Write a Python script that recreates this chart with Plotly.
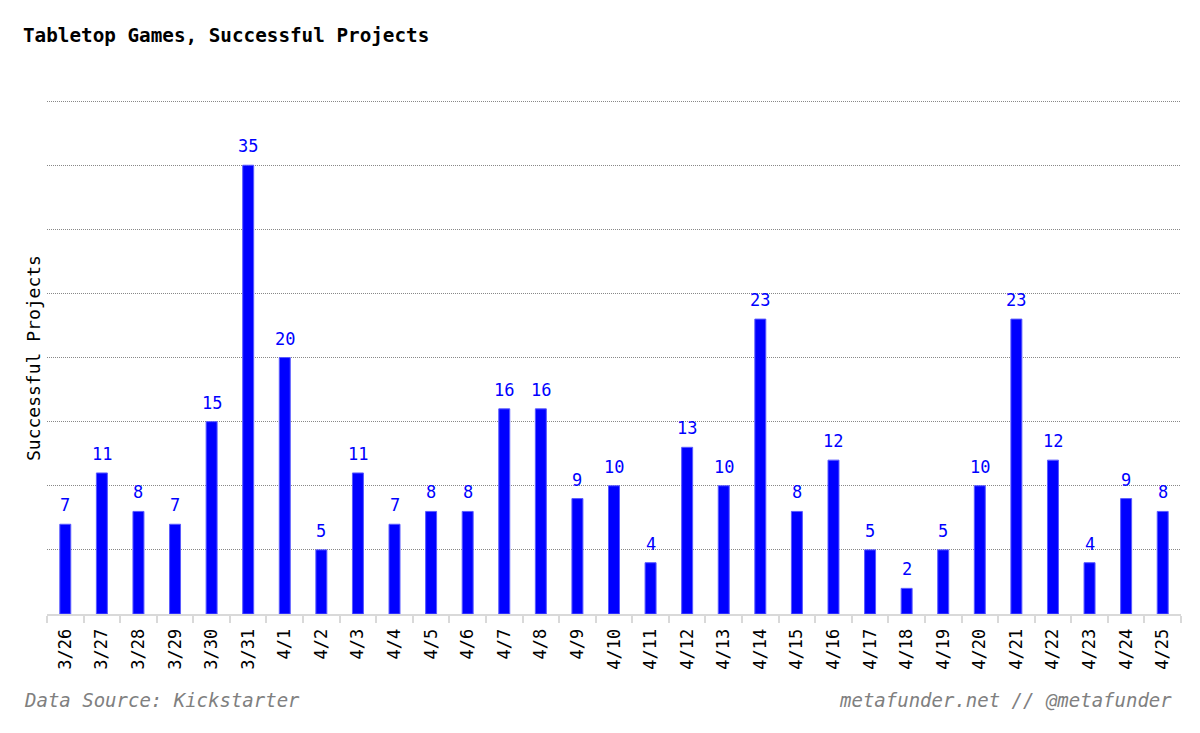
import plotly.graph_objects as go

dates = ["3/26", "3/27", "3/28", "3/29", "3/30", "3/31",
         "4/1", "4/2", "4/3", "4/4", "4/5", "4/6", "4/7", "4/8", "4/9", "4/10",
         "4/11", "4/12", "4/13", "4/14", "4/15", "4/16", "4/17", "4/18", "4/19", "4/20",
         "4/21", "4/22", "4/23", "4/24", "4/25"]
projects = [7, 11, 8, 7, 15, 35, 20, 5, 11, 7, 8, 8, 16, 16, 9, 10,
            4, 13, 10, 23, 8, 12, 5, 2, 5, 10, 23, 12, 4, 9, 8]

FONT = "DejaVu Sans Mono"
BLUE = "#0000ff"

Y_MAX = 40.4
TOP = 96
BOTTOM_PX = 614
plot_h = BOTTOM_PX - TOP
pw = 1200 - 47 - 19

fig = go.Figure(go.Bar(
    x=dates, y=projects,
    marker=dict(color=BLUE, line=dict(color="#5a5aff", width=1)),
    cliponaxis=False,
))

foot_y = -(700 - BOTTOM_PX) / plot_h

annotations = [
    dict(text="Successful Projects", textangle=-90, x=(33 - 47) / pw, xref="paper", xanchor="center",
         y=(614 - 358) / plot_h, yref="paper", yanchor="middle", showarrow=False,
         font=dict(family=FONT, size=18, color="black")),
    dict(text="<i>Data Source: Kickstarter</i>", x=(22 - 47) / pw, xref="paper", xanchor="left",
         y=foot_y, yref="paper", yanchor="middle", showarrow=False,
         font=dict(family=FONT, size=19, color="#808080")),
    dict(text="<i>metafunder.net // @metafunder</i>", x=(1174 - 47) / pw, xref="paper", xanchor="right",
         y=foot_y, yref="paper", yanchor="middle", showarrow=False,
         font=dict(family=FONT, size=19, color="#808080")),
]
for d, v in zip(dates, projects):
    annotations.append(dict(text=str(v), x=d, y=v, xref="x", yref="y", xanchor="center",
                            yanchor="bottom", yshift=7, showarrow=False,
                            font=dict(family=FONT, size=17, color=BLUE)))

fig.update_layout(
    width=1200, height=733,
    margin=dict(l=47, r=19, t=TOP, b=733 - BOTTOM_PX),
    plot_bgcolor="white", paper_bgcolor="white",
    bargap=0.7,
    showlegend=False,
    font=dict(family=FONT, color="black"),
    title=dict(text="<b>Tabletop Games, Successful Projects</b>",
               x=23 / 1200, xanchor="left", xref="container",
               y=1 - 35 / 733, yanchor="middle", yref="container",
               font=dict(family=FONT, size=19.3, color="black")),
    xaxis=dict(type="category", tickangle=-90, tickfont=dict(family=FONT, size=17, color="black"),
               ticks="outside", tickson="boundaries", ticklen=7, tickcolor="#d9d9d9", tickwidth=2,
               ticklabelstandoff=6,
               showline=True, linecolor="#d9d9d9", linewidth=2, showgrid=False),
    yaxis=dict(range=[0, Y_MAX], tickvals=[5, 10, 15, 20, 25, 30, 35, 40], showticklabels=False,
               showgrid=True, gridcolor="#888888", griddash="1px,1px", gridwidth=1,
               zeroline=False, showline=False),
    annotations=annotations,
)

fig.write_html("out.html")
